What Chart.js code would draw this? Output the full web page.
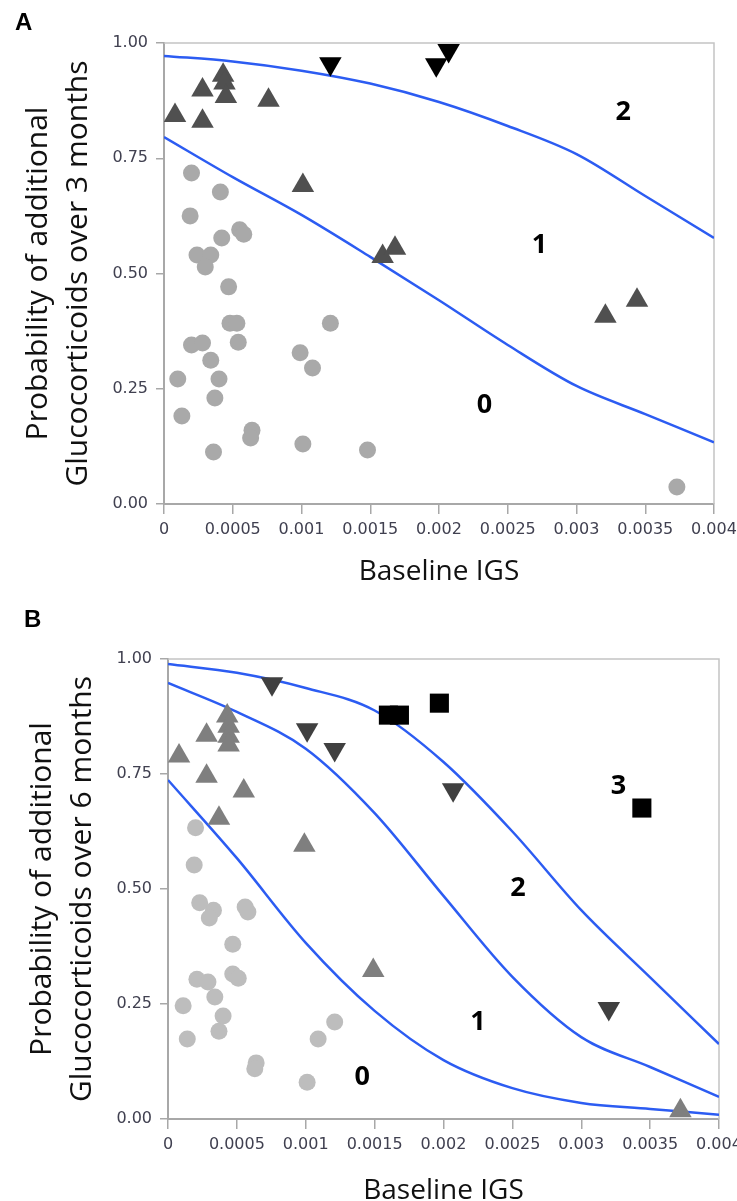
<!DOCTYPE html>
<html>
<head>
<meta charset="utf-8">
<script src="https://cdn.jsdelivr.net/npm/chart.js@4/dist/chart.umd.min.js"></script>
<style>
html, body { margin: 0; padding: 0; background: #fff; overflow: hidden; }
#wrap { position: relative; width: 737px; height: 1201px; }
.panel { position: absolute; left: 0; }
.tag { position: absolute; font: bold 24px "Liberation Sans", Arial, sans-serif; color: #000; }
</style>
</head>
<body>
<div id="wrap">
  <div class="panel" style="top:0"><canvas id="chartA" width="737" height="595"></canvas></div>
  <div class="panel" style="top:595px"><canvas id="chartB" width="737" height="620"></canvas></div>
  <div class="tag" style="left:15px;top:8px">A</div>
  <div class="tag" style="left:24px;top:605px">B</div>
</div>
<script>
// ejes
const xTicks = [0, 0.0005, 0.001, 0.0015, 0.002, 0.0025, 0.003, 0.0035, 0.004];
const yTicks = [0, 0.25, 0.5, 0.75, 1];
const curveX = [0, 0.0005, 0.001, 0.0015, 0.002, 0.0025, 0.003, 0.0035, 0.004];

// panel A: 3 meses
const curveA_upper = [0.972, 0.960, 0.940, 0.912, 0.872, 0.820, 0.759, 0.668, 0.577];
const curveA_lower = [0.796, 0.709, 0.627, 0.536, 0.442, 0.345, 0.256, 0.195, 0.134];

const circA_x = [0.00020, 0.00041, 0.00019, 0.00042, 0.00055, 0.00058, 0.00024, 0.00034, 0.00030, 0.00047, 0.00048, 0.00053, 0.00020, 0.00028, 0.00034, 0.00054, 0.00010, 0.00040, 0.00037, 0.00013, 0.00064, 0.00063, 0.00036, 0.00099, 0.00108, 0.00121, 0.00101, 0.00148, 0.00373];
const circA_y = [0.718, 0.677, 0.625, 0.577, 0.595, 0.585, 0.540, 0.540, 0.514, 0.471, 0.392, 0.392, 0.345, 0.349, 0.312, 0.351, 0.271, 0.271, 0.230, 0.191, 0.160, 0.143, 0.113, 0.328, 0.295, 0.392, 0.130, 0.117, 0.037];

const upA_x = [0.00008, 0.00028, 0.00028, 0.00043, 0.00044, 0.00045, 0.00076, 0.00101, 0.00159, 0.00168, 0.00321, 0.00344];
const upA_y = [0.843, 0.898, 0.830, 0.930, 0.913, 0.884, 0.876, 0.691, 0.537, 0.555, 0.407, 0.442];

const downA_x = [0.00121, 0.00198, 0.00207];
const downA_y = [0.955, 0.953, 0.984];

const zoneA_text = ['2', '1', '0'];
const zoneA_x = [0.00334, 0.00273, 0.00233];
const zoneA_y = [0.850, 0.562, 0.215];

// panel B: 6 meses
const curveB_upper = [0.989, 0.970, 0.937, 0.888, 0.776, 0.625, 0.454, 0.308, 0.163];
const curveB_middle = [0.948, 0.885, 0.805, 0.665, 0.485, 0.309, 0.178, 0.113, 0.048];
const curveB_lower = [0.737, 0.567, 0.383, 0.235, 0.128, 0.067, 0.035, 0.022, 0.009];

const circB_x = [0.00020, 0.00019, 0.00023, 0.00033, 0.00030, 0.00056, 0.00058, 0.00047, 0.00021, 0.00029, 0.00034, 0.00047, 0.00051, 0.00011, 0.00014, 0.00040, 0.00037, 0.00064, 0.00063, 0.00109, 0.00121, 0.00101];
const circB_y = [0.633, 0.552, 0.470, 0.454, 0.437, 0.461, 0.450, 0.380, 0.304, 0.298, 0.265, 0.315, 0.306, 0.246, 0.174, 0.224, 0.191, 0.122, 0.109, 0.174, 0.211, 0.080];

const upB_x = [0.00008, 0.00028, 0.00028, 0.00043, 0.00044, 0.00044, 0.00044, 0.00055, 0.00037, 0.00099, 0.00149, 0.00372];
const upB_y = [0.789, 0.834, 0.745, 0.876, 0.854, 0.832, 0.813, 0.713, 0.654, 0.595, 0.323, 0.018];

const downB_x = [0.000755, 0.00101, 0.00121, 0.00207, 0.0032];
const downB_y = [0.946, 0.846, 0.803, 0.716, 0.240];

const sqB_x = [0.0016, 0.00168, 0.00197, 0.00344];
const sqB_y = [0.878, 0.878, 0.904, 0.676];

const zoneB_text = ['3', '2', '1', '0'];
const zoneB_x = [0.00327, 0.00254, 0.00225, 0.00141];
const zoneB_y = [0.724, 0.502, 0.211, 0.091];

// juntar x e y
function pts(xs, ys) {
    return xs.map((x, i) => ({ x: x, y: ys[i] }));
}

function curve(ys) {
    return {
        data: pts(curveX, ys),
        showLine: true,
        pointRadius: 0,
        borderColor: '#2c5cf2',
        borderWidth: 2.5,
        cubicInterpolationMode: 'monotone',
        order: 2,
    };
}

function marks(xs, ys, style, radius, color, rotation) {
    return {
        data: pts(xs, ys),
        pointStyle: style,
        pointRadius: radius,
        pointRotation: rotation || 0,
        backgroundColor: color,
        borderWidth: 0,
        showLine: false,
        order: 1,
    };
}

// marco y números de zona
const extras = {
    id: 'extras',
    beforeDatasetsDraw(chart) {
        const { ctx, chartArea: a } = chart;
        ctx.save();
        ctx.strokeStyle = '#c4c4c4';
        ctx.lineWidth = 1.5;
        ctx.beginPath();
        ctx.moveTo(a.left, a.top);
        ctx.lineTo(a.right, a.top);
        ctx.lineTo(a.right, a.bottom);
        ctx.stroke();
        ctx.restore();
    },
    afterDatasetsDraw(chart, args, opts) {
        const { ctx, scales } = chart;
        ctx.save();
        ctx.font = 'bold 27px "Open Sans"';
        ctx.fillStyle = '#000';
        ctx.textAlign = 'center';
        ctx.textBaseline = 'middle';
        opts.texts.forEach((t, i) => {
            ctx.fillText(t, scales.x.getPixelForValue(opts.xs[i]), scales.y.getPixelForValue(opts.ys[i]));
        });
        ctx.restore();
    },
};

function makeChart(id, datasets, box, yTitle, zones) {
    const ctx = document.getElementById(id).getContext('2d');
    return new Chart(ctx, {
        type: 'scatter',
        data: { datasets: datasets },
        plugins: [extras],
        options: {
            responsive: false,
            animation: false,
            layout: { padding: box.pad },
            plugins: {
                legend: { display: false },
                tooltip: { enabled: false },
                extras: zones,
            },
            scales: {
                x: {
                    type: 'linear',
                    min: 0,
                    max: 0.004,
                    afterBuildTicks: (s) => { s.ticks = xTicks.map(v => ({ value: v })); },
                    afterFit: (s) => { s.height = box.xh; s.paddingLeft = 0; s.paddingRight = 0; },
                    grid: { drawOnChartArea: false, color: '#a8a8a8', tickLength: 10, lineWidth: 1.5 },
                    border: { color: '#a8a8a8', width: 2 },
                    ticks: {
                        padding: 6,
                        color: '#404050',
                        font: { family: 'DejaVu Sans', size: 16 },
                        maxRotation: 0,
                        autoSkip: false,
                        callback: (v) => String(+Number(v).toFixed(4)),
                    },
                    title: {
                        display: true,
                        text: 'Baseline IGS',
                        color: '#111',
                        font: { family: 'Open Sans', size: 28 },
                        padding: 0,
                    },
                },
                y: {
                    type: 'linear',
                    min: 0,
                    max: 1,
                    afterBuildTicks: (s) => { s.ticks = yTicks.map(v => ({ value: v })); },
                    afterFit: (s) => { s.width = box.yw; s.paddingTop = 0; s.paddingBottom = 0; },
                    grid: { drawOnChartArea: false, color: '#a8a8a8', tickLength: 8, lineWidth: 1.5 },
                    border: { color: '#a8a8a8', width: 2 },
                    ticks: {
                        padding: 8,
                        color: '#404050',
                        font: { family: 'DejaVu Sans', size: 16 },
                        callback: (v) => Number(v).toFixed(2),
                    },
                    title: {
                        display: true,
                        text: yTitle,
                        color: '#111',
                        font: { family: 'Open Sans', size: 30, lineHeight: 1.33 },
                        padding: { top: box.tpad, bottom: 0 },
                    },
                },
            },
        },
    });
}

makeChart('chartA', [
    curve(curveA_upper),
    curve(curveA_lower),
    marks(circA_x, circA_y, 'circle', 8.5, '#a9a9a9'),
    marks(upA_x, upA_y, 'triangle', 13, '#505050'),
    marks(downA_x, downA_y, 'triangle', 13, '#000000', 180),
], { pad: { top: 43, right: 23, bottom: 6, left: 0 }, xh: 85, yw: 164, tpad: 19 },
['Probability of additional', 'Glucocorticoids over 3 months'],
{ texts: zoneA_text, xs: zoneA_x, ys: zoneA_y });

makeChart('chartB', [
    curve(curveB_upper),
    curve(curveB_middle),
    curve(curveB_lower),
    marks(circB_x, circB_y, 'circle', 8.5, '#bdbdbd'),
    marks(upB_x, upB_y, 'triangle', 13, '#7f7f7f'),
    marks(downB_x, downB_y, 'triangle', 13, '#404040', 180),
    marks(sqB_x, sqB_y, 'rect', 13.5, '#000000'),
], { pad: { top: 64, right: 18, bottom: 7, left: 0 }, xh: 89, yw: 168, tpad: 23 },
['Probability of additional', 'Glucocorticoids over 6 months'],
{ texts: zoneB_text, xs: zoneB_x, ys: zoneB_y });
</script>
</body>
</html>
